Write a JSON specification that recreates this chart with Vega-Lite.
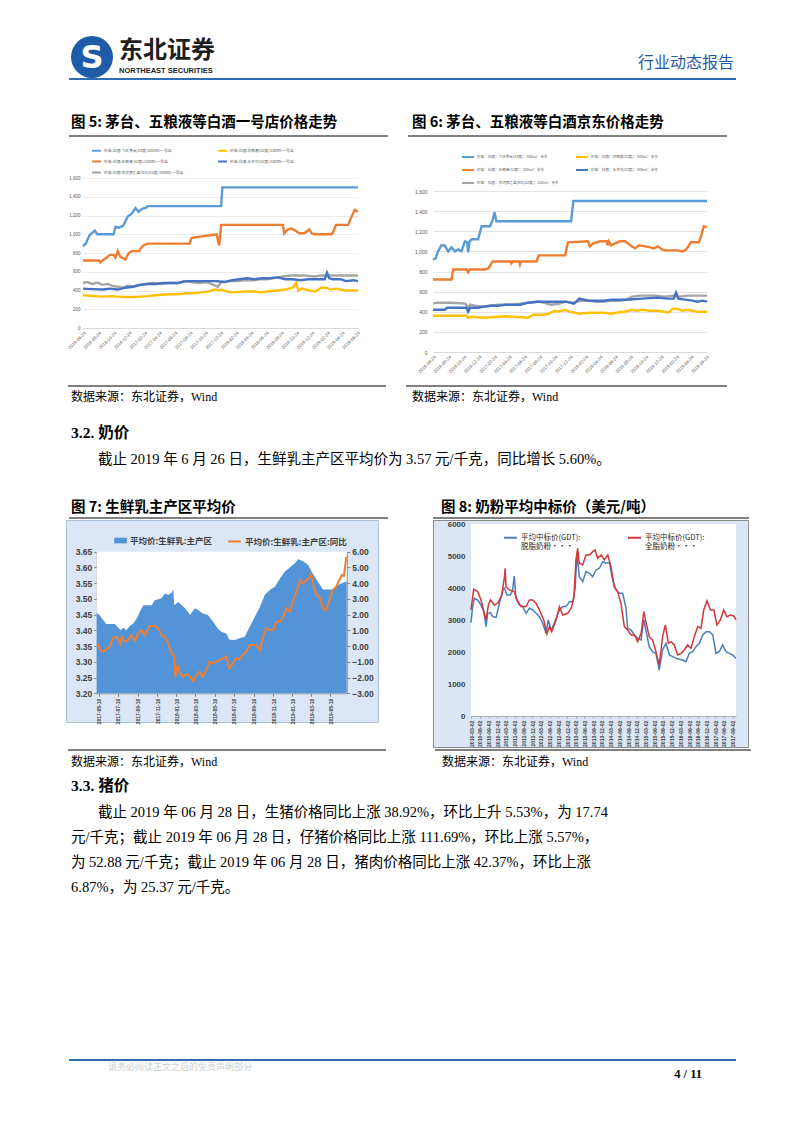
{
"$schema": "https://vega.github.io/schema/vega-lite/v6.json",
"background": "white",
"padding": {"left": 65, "top": 0, "right": 55, "bottom": 53},
"bounds": "flush",
"spacing": 0,
"columns": 2,
"align": "each",
"resolve": {"scale": {"color": "independent", "fill": "independent", "stroke": "independent"}, "legend": {"color": "independent", "fill": "independent", "stroke": "independent"}},
"config": {"view": {"stroke": null}, "font": "Noto Sans CJK SC"},
"concat": [
{
"width": 367, "height": 82,
"data": {"values": [{"name": "东北证券", "en": "NORTHEAST SECURITIES", "logo": "S"}]},
"layer": [
 {"mark": {"type": "point", "shape": "circle", "filled": true, "fill": "#1f5ba6", "opacity": 1, "size": 1764, "xOffset": 26, "yOffset": 16}, "encoding": {"x": {"datum": 0, "type": "quantitative", "scale": {"domain": [0, 1]}, "axis": null}}},
 {"mark": {"type": "text", "font": "DejaVu Sans", "fontWeight": "bold", "fontSize": 32, "fill": "white", "align": "center", "baseline": "middle", "dx": 26, "dy": 17}, "encoding": {"x": {"datum": 0, "type": "quantitative", "axis": null}, "text": {"field": "logo"}}},
 {"mark": {"type": "text", "fontWeight": "bold", "fontSize": 24, "fill": "#1e1e1e", "align": "left", "baseline": "middle", "dx": 53, "dy": 10}, "encoding": {"x": {"datum": 0, "type": "quantitative", "axis": null}, "text": {"field": "name"}}},
 {"mark": {"type": "text", "font": "Liberation Sans", "fontWeight": "bold", "fontSize": 7.5, "fill": "#1e1e1e", "align": "left", "baseline": "middle", "dx": 53, "dy": 30}, "encoding": {"x": {"datum": 0, "type": "quantitative", "axis": null}, "text": {"field": "en"}}},
 {"mark": {"type": "rule", "stroke": "#2e6db4", "strokeWidth": 2, "xOffset": 3, "yOffset": 38}, "encoding": {"x": {"datum": 0, "type": "quantitative", "axis": null}, "x2": {"datum": 1}, "y": {"datum": 0.5, "type": "quantitative", "scale": {"domain": [0, 1]}, "axis": null}}}
]
},
{
"width": 303, "height": 82,
"data": {"values": [{"tag": "行业动态报告"}]},
"layer": [
 {"mark": {"type": "text", "fontSize": 16, "fill": "#1f5ba6", "align": "right", "baseline": "middle", "dx": -2, "dy": 22}, "encoding": {"x": {"datum": 1, "type": "quantitative", "scale": {"domain": [0, 1]}, "axis": null}, "text": {"field": "tag"}}},
 {"mark": {"type": "rule", "stroke": "#2e6db4", "strokeWidth": 2, "yOffset": 38}, "encoding": {"x": {"datum": 0, "type": "quantitative", "axis": null}, "x2": {"datum": 1}, "y": {"datum": 0.5, "type": "quantitative", "scale": {"domain": [0, 1]}, "axis": null}}}
]
},
{"width": 367, "height": 96, "data": {"values": [{"t": "图 5: 茅台、五粮液等白酒一号店价格走势"}]}, "layer": [
  {"mark": {"type": "text", "fontWeight": "bold", "fontSize": 14.5, "align": "left", "baseline": "middle", "dx": 5, "dy": -7, "fill": "#000"}, "encoding": {"x": {"datum": 0, "type": "quantitative", "scale": {"domain": [0, 1]}, "axis": null}, "text": {"field": "t"}}},
  {"mark": {"type": "rule", "stroke": "#000", "strokeWidth": 1, "xOffset": 3, "x2Offset": -45, "yOffset": 6}, "encoding": {"x": {"datum": 0, "type": "quantitative", "axis": null}, "x2": {"datum": 1}, "y": {"datum": 0.5, "type": "quantitative", "scale": {"domain": [0, 1]}, "axis": null}}}
]},
{"width": 303, "height": 96, "data": {"values": [{"t": "图 6: 茅台、五粮液等白酒京东价格走势"}]}, "layer": [
  {"mark": {"type": "text", "fontWeight": "bold", "fontSize": 14.5, "align": "left", "baseline": "middle", "dx": -21, "dy": -7, "fill": "#000"}, "encoding": {"x": {"datum": 0, "type": "quantitative", "scale": {"domain": [0, 1]}, "axis": null}, "text": {"field": "t"}}},
  {"mark": {"type": "rule", "stroke": "#000", "strokeWidth": 1, "xOffset": -25, "x2Offset": -9, "yOffset": 6}, "encoding": {"x": {"datum": 0, "type": "quantitative", "axis": null}, "x2": {"datum": 1}, "y": {"datum": 0.5, "type": "quantitative", "scale": {"domain": [0, 1]}, "axis": null}}}
]},
{
  "width": 292, "height": 150,
  "data": {"values": [
   {"d":"2016-06-24","s":"飞天茅台(53度)","v":870},{"d":"2016-07-05","s":"飞天茅台(53度)","v":900},{"d":"2016-07-20","s":"飞天茅台(53度)","v":990},{"d":"2016-08-10","s":"飞天茅台(53度)","v":1040},{"d":"2016-08-20","s":"飞天茅台(53度)","v":1000},{"d":"2016-10-24","s":"飞天茅台(53度)","v":1000},{"d":"2016-11-01","s":"飞天茅台(53度)","v":1080},{"d":"2016-11-15","s":"飞天茅台(53度)","v":1070},{"d":"2016-12-01","s":"飞天茅台(53度)","v":1090},{"d":"2016-12-20","s":"飞天茅台(53度)","v":1190},{"d":"2017-01-05","s":"飞天茅台(53度)","v":1220},{"d":"2017-01-20","s":"飞天茅台(53度)","v":1280},{"d":"2017-02-01","s":"飞天茅台(53度)","v":1240},{"d":"2017-02-15","s":"飞天茅台(53度)","v":1270},{"d":"2017-03-01","s":"飞天茅台(53度)","v":1280},{"d":"2017-03-10","s":"飞天茅台(53度)","v":1300},{"d":"2017-12-28","s":"飞天茅台(53度)","v":1300},{"d":"2018-01-02","s":"飞天茅台(53度)","v":1500},{"d":"2019-06-28","s":"飞天茅台(53度)","v":1500},
   {"d":"2016-06-24","s":"五粮液(52度)","v":720},{"d":"2016-08-28","s":"五粮液(52度)","v":720},{"d":"2016-09-01","s":"五粮液(52度)","v":700},{"d":"2016-09-10","s":"五粮液(52度)","v":720},{"d":"2016-10-01","s":"五粮液(52度)","v":760},{"d":"2016-10-10","s":"五粮液(52度)","v":780},{"d":"2016-10-24","s":"五粮液(52度)","v":780},{"d":"2016-11-01","s":"五粮液(52度)","v":750},{"d":"2016-11-10","s":"五粮液(52度)","v":820},{"d":"2016-11-20","s":"五粮液(52度)","v":760},{"d":"2016-12-10","s":"五粮液(52度)","v":730},{"d":"2016-12-24","s":"五粮液(52度)","v":800},{"d":"2017-01-05","s":"五粮液(52度)","v":820},{"d":"2017-02-05","s":"五粮液(52度)","v":820},{"d":"2017-02-10","s":"五粮液(52度)","v":850},{"d":"2017-02-20","s":"五粮液(52度)","v":880},{"d":"2017-03-10","s":"五粮液(52度)","v":900},{"d":"2017-08-24","s":"五粮液(52度)","v":900},{"d":"2017-09-01","s":"五粮液(52度)","v":960},{"d":"2017-09-20","s":"五粮液(52度)","v":970},{"d":"2017-10-20","s":"五粮液(52度)","v":980},{"d":"2017-11-15","s":"五粮液(52度)","v":990},{"d":"2017-12-10","s":"五粮液(52度)","v":1000},{"d":"2017-12-20","s":"五粮液(52度)","v":880},{"d":"2017-12-28","s":"五粮液(52度)","v":1100},{"d":"2018-09-01","s":"五粮液(52度)","v":1100},{"d":"2018-09-06","s":"五粮液(52度)","v":1010},{"d":"2018-09-20","s":"五粮液(52度)","v":1050},{"d":"2018-10-05","s":"五粮液(52度)","v":1060},{"d":"2018-10-20","s":"五粮液(52度)","v":1040},{"d":"2018-11-05","s":"五粮液(52度)","v":1010},{"d":"2018-11-25","s":"五粮液(52度)","v":1010},{"d":"2018-12-05","s":"五粮液(52度)","v":1030},{"d":"2018-12-15","s":"五粮液(52度)","v":1050},{"d":"2018-12-25","s":"五粮液(52度)","v":1010},{"d":"2019-01-05","s":"五粮液(52度)","v":1000},{"d":"2019-03-15","s":"五粮液(52度)","v":1000},{"d":"2019-03-22","s":"五粮液(52度)","v":1030},{"d":"2019-04-01","s":"五粮液(52度)","v":1100},{"d":"2019-05-20","s":"五粮液(52度)","v":1100},{"d":"2019-06-01","s":"五粮液(52度)","v":1180},{"d":"2019-06-15","s":"五粮液(52度)","v":1260},{"d":"2019-06-28","s":"五粮液(52度)","v":1240},
   {"d":"2016-06-24","s":"洋河梦之蓝(M3)(52度)","v":480},{"d":"2016-07-10","s":"洋河梦之蓝(M3)(52度)","v":490},{"d":"2016-08-01","s":"洋河梦之蓝(M3)(52度)","v":470},{"d":"2016-08-20","s":"洋河梦之蓝(M3)(52度)","v":485},{"d":"2016-09-10","s":"洋河梦之蓝(M3)(52度)","v":460},{"d":"2016-10-01","s":"洋河梦之蓝(M3)(52度)","v":470},{"d":"2016-10-20","s":"洋河梦之蓝(M3)(52度)","v":450},{"d":"2016-11-10","s":"洋河梦之蓝(M3)(52度)","v":440},{"d":"2016-12-01","s":"洋河梦之蓝(M3)(52度)","v":430},{"d":"2016-12-20","s":"洋河梦之蓝(M3)(52度)","v":450},{"d":"2017-01-10","s":"洋河梦之蓝(M3)(52度)","v":440},{"d":"2017-02-01","s":"洋河梦之蓝(M3)(52度)","v":460},{"d":"2017-03-01","s":"洋河梦之蓝(M3)(52度)","v":470},{"d":"2017-04-01","s":"洋河梦之蓝(M3)(52度)","v":480},{"d":"2017-05-01","s":"洋河梦之蓝(M3)(52度)","v":470},{"d":"2017-06-01","s":"洋河梦之蓝(M3)(52度)","v":480},{"d":"2017-07-10","s":"洋河梦之蓝(M3)(52度)","v":480},{"d":"2017-08-01","s":"洋河梦之蓝(M3)(52度)","v":500},{"d":"2017-09-01","s":"洋河梦之蓝(M3)(52度)","v":490},{"d":"2017-10-01","s":"洋河梦之蓝(M3)(52度)","v":480},{"d":"2017-11-01","s":"洋河梦之蓝(M3)(52度)","v":490},{"d":"2017-12-15","s":"洋河梦之蓝(M3)(52度)","v":440},{"d":"2017-12-28","s":"洋河梦之蓝(M3)(52度)","v":490},{"d":"2018-02-01","s":"洋河梦之蓝(M3)(52度)","v":500},{"d":"2018-03-01","s":"洋河梦之蓝(M3)(52度)","v":500},{"d":"2018-04-01","s":"洋河梦之蓝(M3)(52度)","v":510},{"d":"2018-05-01","s":"洋河梦之蓝(M3)(52度)","v":510},{"d":"2018-06-01","s":"洋河梦之蓝(M3)(52度)","v":520},{"d":"2018-07-01","s":"洋河梦之蓝(M3)(52度)","v":520},{"d":"2018-08-10","s":"洋河梦之蓝(M3)(52度)","v":540},{"d":"2018-09-01","s":"洋河梦之蓝(M3)(52度)","v":550},{"d":"2018-10-01","s":"洋河梦之蓝(M3)(52度)","v":560},{"d":"2018-11-01","s":"洋河梦之蓝(M3)(52度)","v":560},{"d":"2018-12-01","s":"洋河梦之蓝(M3)(52度)","v":560},{"d":"2019-01-01","s":"洋河梦之蓝(M3)(52度)","v":550},{"d":"2019-02-01","s":"洋河梦之蓝(M3)(52度)","v":560},{"d":"2019-04-01","s":"洋河梦之蓝(M3)(52度)","v":560},{"d":"2019-06-28","s":"洋河梦之蓝(M3)(52度)","v":560},
   {"d":"2016-06-24","s":"剑南春(52度)","v":350},{"d":"2016-07-15","s":"剑南春(52度)","v":345},{"d":"2016-08-10","s":"剑南春(52度)","v":340},{"d":"2016-09-10","s":"剑南春(52度)","v":335},{"d":"2016-10-10","s":"剑南春(52度)","v":340},{"d":"2016-11-10","s":"剑南春(52度)","v":335},{"d":"2016-12-10","s":"剑南春(52度)","v":330},{"d":"2017-01-10","s":"剑南春(52度)","v":330},{"d":"2017-02-10","s":"剑南春(52度)","v":335},{"d":"2017-03-10","s":"剑南春(52度)","v":340},{"d":"2017-04-10","s":"剑南春(52度)","v":350},{"d":"2017-05-10","s":"剑南春(52度)","v":355},{"d":"2017-06-10","s":"剑南春(52度)","v":360},{"d":"2017-07-10","s":"剑南春(52度)","v":360},{"d":"2017-08-10","s":"剑南春(52度)","v":370},{"d":"2017-09-10","s":"剑南春(52度)","v":370},{"d":"2017-10-10","s":"剑南春(52度)","v":380},{"d":"2017-11-10","s":"剑南春(52度)","v":390},{"d":"2017-12-01","s":"剑南春(52度)","v":410},{"d":"2017-12-20","s":"剑南春(52度)","v":400},{"d":"2017-12-28","s":"剑南春(52度)","v":410},{"d":"2018-01-20","s":"剑南春(52度)","v":390},{"d":"2018-02-10","s":"剑南春(52度)","v":380},{"d":"2018-03-10","s":"剑南春(52度)","v":385},{"d":"2018-04-10","s":"剑南春(52度)","v":390},{"d":"2018-05-10","s":"剑南春(52度)","v":390},{"d":"2018-06-10","s":"剑南春(52度)","v":380},{"d":"2018-07-10","s":"剑南春(52度)","v":395},{"d":"2018-08-10","s":"剑南春(52度)","v":400},{"d":"2018-09-10","s":"剑南春(52度)","v":410},{"d":"2018-10-10","s":"剑南春(52度)","v":430},{"d":"2018-10-24","s":"剑南春(52度)","v":480},{"d":"2018-11-01","s":"剑南春(52度)","v":400},{"d":"2018-11-15","s":"剑南春(52度)","v":420},{"d":"2018-12-01","s":"剑南春(52度)","v":410},{"d":"2018-12-20","s":"剑南春(52度)","v":400},{"d":"2019-01-10","s":"剑南春(52度)","v":390},{"d":"2019-02-01","s":"剑南春(52度)","v":430},{"d":"2019-02-20","s":"剑南春(52度)","v":430},{"d":"2019-03-10","s":"剑南春(52度)","v":410},{"d":"2019-04-01","s":"剑南春(52度)","v":420},{"d":"2019-04-20","s":"剑南春(52度)","v":410},{"d":"2019-05-10","s":"剑南春(52度)","v":400},{"d":"2019-06-28","s":"剑南春(52度)","v":400},
   {"d":"2016-06-24","s":"水井坊(52度)","v":420},{"d":"2016-08-01","s":"水井坊(52度)","v":415},{"d":"2016-09-10","s":"水井坊(52度)","v":410},{"d":"2016-10-10","s":"水井坊(52度)","v":420},{"d":"2016-11-10","s":"水井坊(52度)","v":410},{"d":"2016-12-10","s":"水井坊(52度)","v":430},{"d":"2017-01-10","s":"水井坊(52度)","v":440},{"d":"2017-02-10","s":"水井坊(52度)","v":460},{"d":"2017-03-10","s":"水井坊(52度)","v":470},{"d":"2017-04-10","s":"水井坊(52度)","v":470},{"d":"2017-05-10","s":"水井坊(52度)","v":480},{"d":"2017-07-10","s":"水井坊(52度)","v":480},{"d":"2017-08-10","s":"水井坊(52度)","v":500},{"d":"2017-10-10","s":"水井坊(52度)","v":500},{"d":"2017-12-10","s":"水井坊(52度)","v":500},{"d":"2018-01-10","s":"水井坊(52度)","v":490},{"d":"2018-02-10","s":"水井坊(52度)","v":510},{"d":"2018-03-10","s":"水井坊(52度)","v":520},{"d":"2018-04-10","s":"水井坊(52度)","v":530},{"d":"2018-05-10","s":"水井坊(52度)","v":520},{"d":"2018-06-10","s":"水井坊(52度)","v":530},{"d":"2018-07-10","s":"水井坊(52度)","v":530},{"d":"2018-08-10","s":"水井坊(52度)","v":540},{"d":"2018-09-10","s":"水井坊(52度)","v":520},{"d":"2018-10-10","s":"水井坊(52度)","v":520},{"d":"2018-11-10","s":"水井坊(52度)","v":510},{"d":"2018-12-10","s":"水井坊(52度)","v":520},{"d":"2019-01-10","s":"水井坊(52度)","v":520},{"d":"2019-02-15","s":"水井坊(52度)","v":520},{"d":"2019-02-24","s":"水井坊(52度)","v":590},{"d":"2019-03-05","s":"水井坊(52度)","v":530},{"d":"2019-03-20","s":"水井坊(52度)","v":520},{"d":"2019-04-20","s":"水井坊(52度)","v":520},{"d":"2019-05-10","s":"水井坊(52度)","v":500},{"d":"2019-06-10","s":"水井坊(52度)","v":510},{"d":"2019-06-28","s":"水井坊(52度)","v":500}
  ]},
  "mark": {"type": "line", "strokeWidth": 2.4},
  "encoding": {
   "x": {"field": "d", "type": "temporal", "scale": {"domain": [{"year":2016,"month":6,"date":24},{"year":2019,"month":6,"date":28}], "range": [17, 292], "nice": false},
     "axis": {"title": null, "values": [{"year":2016,"month":6,"date":24},{"year":2016,"month":8,"date":24},{"year":2016,"month":10,"date":24},{"year":2016,"month":12,"date":24},{"year":2017,"month":2,"date":24},{"year":2017,"month":4,"date":24},{"year":2017,"month":6,"date":24},{"year":2017,"month":8,"date":24},{"year":2017,"month":10,"date":24},{"year":2017,"month":12,"date":24},{"year":2018,"month":2,"date":24},{"year":2018,"month":4,"date":24},{"year":2018,"month":6,"date":24},{"year":2018,"month":8,"date":24},{"year":2018,"month":10,"date":24},{"year":2018,"month":12,"date":24},{"year":2019,"month":2,"date":24},{"year":2019,"month":4,"date":24},{"year":2019,"month":6,"date":24}],
       "format": "%Y-%m-%d", "labelAngle": -45, "labelFontSize": 4.5, "labelFont": "Liberation Sans", "labelColor": "#595959", "grid": false, "ticks": false, "domainColor": "#d9d9d9", "labelPadding": 2, "labelOverlap": false}},
   "y": {"field": "v", "type": "quantitative", "scale": {"domain": [0, 1600], "nice": false},
     "axis": {"title": null, "orient": "left", "offset": -17, "values": [0,200,400,600,800,1000,1200,1400,1600], "labelExpr": "format(datum.value, ',')", "labelFontSize": 4.5, "labelFont": "Liberation Sans", "labelColor": "#595959", "domain": false, "ticks": false, "gridColor": "#ececec", "labelPadding": 3}},
   "color": {"field": "s", "type": "nominal", "scale": {"domain": ["飞天茅台(53度)","五粮液(52度)","洋河梦之蓝(M3)(52度)","剑南春(52度)","水井坊(52度)"], "range": ["#5b9bd5","#ed7d31","#a5a5a5","#ffc000","#4472c4"]},
     "legend": {"orient": "none", "legendX": 25, "legendY": -33, "columns": 2, "title": null, "symbolType": "stroke", "symbolSize": 81, "symbolStrokeWidth": 2, "labelFontSize": 3.8, "labelColor": "#595959", "labelExpr": "'价格:白酒:' + datum.label + ':500ml:一号店'", "columnPadding": 30, "rowPadding": 1, "labelOffset": 2, "labelLimit": 0}}
  }
},
{
  "width": 274, "height": 174,
  "data": {"values": [
   {"d":"2016-06-24","s":"飞天茅台(53度)","v":920},{"d":"2016-07-05","s":"飞天茅台(53度)","v":930},{"d":"2016-07-14","s":"飞天茅台(53度)","v":1000},{"d":"2016-07-27","s":"飞天茅台(53度)","v":1060},{"d":"2016-08-10","s":"飞天茅台(53度)","v":1060},{"d":"2016-08-24","s":"飞天茅台(53度)","v":1000},{"d":"2016-09-06","s":"飞天茅台(53度)","v":1040},{"d":"2016-09-20","s":"飞天茅台(53度)","v":1000},{"d":"2016-10-03","s":"飞天茅台(53度)","v":1020},{"d":"2016-10-16","s":"飞天茅台(53度)","v":1000},{"d":"2016-10-30","s":"飞天茅台(53度)","v":1100},{"d":"2016-11-08","s":"飞天茅台(53度)","v":1090},{"d":"2016-11-12","s":"飞天茅台(53度)","v":990},{"d":"2016-11-18","s":"飞天茅台(53度)","v":1100},{"d":"2016-11-26","s":"飞天茅台(53度)","v":1120},{"d":"2016-12-22","s":"飞天茅台(53度)","v":1120},{"d":"2017-01-05","s":"飞天茅台(53度)","v":1250},{"d":"2017-02-08","s":"飞天茅台(53度)","v":1250},{"d":"2017-02-18","s":"飞天茅台(53度)","v":1310},{"d":"2017-02-26","s":"飞天茅台(53度)","v":1390},{"d":"2017-03-05","s":"飞天茅台(53度)","v":1300},{"d":"2017-12-30","s":"飞天茅台(53度)","v":1300},{"d":"2018-01-08","s":"飞天茅台(53度)","v":1500},{"d":"2019-06-28","s":"飞天茅台(53度)","v":1500},
   {"d":"2016-06-24","s":"五粮液(52度)","v":720},{"d":"2016-09-06","s":"五粮液(52度)","v":720},{"d":"2016-09-13","s":"五粮液(52度)","v":820},{"d":"2016-11-06","s":"五粮液(52度)","v":820},{"d":"2016-11-12","s":"五粮液(52度)","v":790},{"d":"2016-11-19","s":"五粮液(52度)","v":820},{"d":"2017-01-19","s":"五粮液(52度)","v":820},{"d":"2017-02-01","s":"五粮液(52度)","v":830},{"d":"2017-02-18","s":"五粮液(52度)","v":900},{"d":"2017-05-01","s":"五粮液(52度)","v":900},{"d":"2017-05-04","s":"五粮液(52度)","v":880},{"d":"2017-05-10","s":"五粮液(52度)","v":900},{"d":"2017-06-05","s":"五粮液(52度)","v":900},{"d":"2017-06-08","s":"五粮液(52度)","v":870},{"d":"2017-06-12","s":"五粮液(52度)","v":900},{"d":"2017-08-13","s":"五粮液(52度)","v":900},{"d":"2017-08-22","s":"五粮液(52度)","v":960},{"d":"2017-12-06","s":"五粮液(52度)","v":960},{"d":"2017-12-17","s":"五粮液(52度)","v":1090},{"d":"2018-03-08","s":"五粮液(52度)","v":1100},{"d":"2018-03-15","s":"五粮液(52度)","v":1050},{"d":"2018-03-29","s":"五粮液(52度)","v":1080},{"d":"2018-04-25","s":"五粮液(52度)","v":1100},{"d":"2018-05-22","s":"五粮液(52度)","v":1100},{"d":"2018-05-25","s":"五粮液(52度)","v":1060},{"d":"2018-05-30","s":"五粮液(52度)","v":1100},{"d":"2018-06-08","s":"五粮液(52度)","v":1060},{"d":"2018-06-24","s":"五粮液(52度)","v":1080},{"d":"2018-07-14","s":"五粮液(52度)","v":1100},{"d":"2018-08-04","s":"五粮液(52度)","v":1100},{"d":"2018-08-30","s":"五粮液(52度)","v":1050},{"d":"2018-09-13","s":"五粮液(52度)","v":1030},{"d":"2018-09-29","s":"五粮液(52度)","v":1060},{"d":"2018-10-23","s":"五粮液(52度)","v":1050},{"d":"2018-11-13","s":"五粮液(52度)","v":1040},{"d":"2018-11-26","s":"五粮液(52度)","v":1030},{"d":"2018-12-13","s":"五粮液(52度)","v":1050},{"d":"2018-12-29","s":"五粮液(52度)","v":1020},{"d":"2019-01-12","s":"五粮液(52度)","v":1010},{"d":"2019-03-05","s":"五粮液(52度)","v":1010},{"d":"2019-03-19","s":"五粮液(52度)","v":1000},{"d":"2019-04-01","s":"五粮液(52度)","v":1010},{"d":"2019-04-12","s":"五粮液(52度)","v":1040},{"d":"2019-04-25","s":"五粮液(52度)","v":1090},{"d":"2019-05-27","s":"五粮液(52度)","v":1090},{"d":"2019-06-04","s":"五粮液(52度)","v":1150},{"d":"2019-06-15","s":"五粮液(52度)","v":1250},{"d":"2019-06-27","s":"五粮液(52度)","v":1240},
   {"d":"2016-06-24","s":"洋河梦之蓝(M3)(52度)","v":480},{"d":"2016-07-10","s":"洋河梦之蓝(M3)(52度)","v":490},{"d":"2016-09-01","s":"洋河梦之蓝(M3)(52度)","v":490},{"d":"2016-10-15","s":"洋河梦之蓝(M3)(52度)","v":485},{"d":"2016-11-01","s":"洋河梦之蓝(M3)(52度)","v":480},{"d":"2016-11-12","s":"洋河梦之蓝(M3)(52度)","v":440},{"d":"2016-11-20","s":"洋河梦之蓝(M3)(52度)","v":470},{"d":"2016-12-10","s":"洋河梦之蓝(M3)(52度)","v":460},{"d":"2017-01-10","s":"洋河梦之蓝(M3)(52度)","v":450},{"d":"2017-02-10","s":"洋河梦之蓝(M3)(52度)","v":460},{"d":"2017-03-10","s":"洋河梦之蓝(M3)(52度)","v":470},{"d":"2017-05-10","s":"洋河梦之蓝(M3)(52度)","v":470},{"d":"2017-06-10","s":"洋河梦之蓝(M3)(52度)","v":480},{"d":"2017-07-10","s":"洋河梦之蓝(M3)(52度)","v":490},{"d":"2017-08-20","s":"洋河梦之蓝(M3)(52度)","v":500},{"d":"2017-09-10","s":"洋河梦之蓝(M3)(52度)","v":490},{"d":"2017-10-10","s":"洋河梦之蓝(M3)(52度)","v":470},{"d":"2017-11-10","s":"洋河梦之蓝(M3)(52度)","v":480},{"d":"2017-12-10","s":"洋河梦之蓝(M3)(52度)","v":500},{"d":"2018-01-10","s":"洋河梦之蓝(M3)(52度)","v":490},{"d":"2018-02-10","s":"洋河梦之蓝(M3)(52度)","v":510},{"d":"2018-03-10","s":"洋河梦之蓝(M3)(52度)","v":510},{"d":"2018-04-10","s":"洋河梦之蓝(M3)(52度)","v":500},{"d":"2018-05-10","s":"洋河梦之蓝(M3)(52度)","v":500},{"d":"2018-06-10","s":"洋河梦之蓝(M3)(52度)","v":510},{"d":"2018-07-10","s":"洋河梦之蓝(M3)(52度)","v":510},{"d":"2018-08-10","s":"洋河梦之蓝(M3)(52度)","v":520},{"d":"2018-09-01","s":"洋河梦之蓝(M3)(52度)","v":550},{"d":"2018-10-01","s":"洋河梦之蓝(M3)(52度)","v":560},{"d":"2018-12-01","s":"洋河梦之蓝(M3)(52度)","v":560},{"d":"2019-01-10","s":"洋河梦之蓝(M3)(52度)","v":550},{"d":"2019-02-10","s":"洋河梦之蓝(M3)(52度)","v":560},{"d":"2019-03-10","s":"洋河梦之蓝(M3)(52度)","v":550},{"d":"2019-04-10","s":"洋河梦之蓝(M3)(52度)","v":560},{"d":"2019-06-28","s":"洋河梦之蓝(M3)(52度)","v":560},
   {"d":"2016-06-24","s":"剑南春(52度)","v":360},{"d":"2016-11-05","s":"剑南春(52度)","v":360},{"d":"2016-11-12","s":"剑南春(52度)","v":340},{"d":"2016-11-25","s":"剑南春(52度)","v":350},{"d":"2016-12-20","s":"剑南春(52度)","v":345},{"d":"2017-01-20","s":"剑南春(52度)","v":340},{"d":"2017-03-10","s":"剑南春(52度)","v":350},{"d":"2017-04-10","s":"剑南春(52度)","v":355},{"d":"2017-05-10","s":"剑南春(52度)","v":350},{"d":"2017-07-10","s":"剑南春(52度)","v":340},{"d":"2017-08-01","s":"剑南春(52度)","v":370},{"d":"2017-09-10","s":"剑南春(52度)","v":370},{"d":"2017-10-01","s":"剑南春(52度)","v":380},{"d":"2017-10-24","s":"剑南春(52度)","v":410},{"d":"2017-11-10","s":"剑南春(52度)","v":400},{"d":"2017-12-05","s":"剑南春(52度)","v":420},{"d":"2017-12-25","s":"剑南春(52度)","v":400},{"d":"2018-02-01","s":"剑南春(52度)","v":380},{"d":"2018-03-10","s":"剑南春(52度)","v":390},{"d":"2018-05-10","s":"剑南春(52度)","v":390},{"d":"2018-06-10","s":"剑南春(52度)","v":380},{"d":"2018-07-10","s":"剑南春(52度)","v":395},{"d":"2018-08-01","s":"剑南春(52度)","v":400},{"d":"2018-09-01","s":"剑南春(52度)","v":420},{"d":"2018-09-20","s":"剑南春(52度)","v":410},{"d":"2018-10-10","s":"剑南春(52度)","v":420},{"d":"2018-11-10","s":"剑南春(52度)","v":410},{"d":"2018-12-10","s":"剑南春(52度)","v":410},{"d":"2019-01-10","s":"剑南春(52度)","v":400},{"d":"2019-01-25","s":"剑南春(52度)","v":390},{"d":"2019-02-10","s":"剑南春(52度)","v":430},{"d":"2019-03-01","s":"剑南春(52度)","v":430},{"d":"2019-03-20","s":"剑南春(52度)","v":410},{"d":"2019-04-10","s":"剑南春(52度)","v":420},{"d":"2019-05-01","s":"剑南春(52度)","v":410},{"d":"2019-05-20","s":"剑南春(52度)","v":400},{"d":"2019-06-28","s":"剑南春(52度)","v":400},
   {"d":"2016-06-24","s":"水井坊(52度)","v":420},{"d":"2016-08-10","s":"水井坊(52度)","v":420},{"d":"2016-08-20","s":"水井坊(52度)","v":440},{"d":"2016-11-05","s":"水井坊(52度)","v":440},{"d":"2016-11-12","s":"水井坊(52度)","v":400},{"d":"2016-11-20","s":"水井坊(52度)","v":440},{"d":"2016-12-20","s":"水井坊(52度)","v":440},{"d":"2017-01-10","s":"水井坊(52度)","v":450},{"d":"2017-02-10","s":"水井坊(52度)","v":460},{"d":"2017-03-10","s":"水井坊(52度)","v":460},{"d":"2017-04-10","s":"水井坊(52度)","v":470},{"d":"2017-06-10","s":"水井坊(52度)","v":470},{"d":"2017-07-10","s":"水井坊(52度)","v":490},{"d":"2017-08-15","s":"水井坊(52度)","v":500},{"d":"2017-12-10","s":"水井坊(52度)","v":500},{"d":"2018-01-10","s":"水井坊(52度)","v":480},{"d":"2018-02-01","s":"水井坊(52度)","v":530},{"d":"2018-03-10","s":"水井坊(52度)","v":510},{"d":"2018-05-10","s":"水井坊(52度)","v":510},{"d":"2018-06-10","s":"水井坊(52度)","v":520},{"d":"2018-08-10","s":"水井坊(52度)","v":520},{"d":"2018-10-10","s":"水井坊(52度)","v":530},{"d":"2018-12-10","s":"水井坊(52度)","v":540},{"d":"2019-01-20","s":"水井坊(52度)","v":530},{"d":"2019-02-15","s":"水井坊(52度)","v":530},{"d":"2019-02-24","s":"水井坊(52度)","v":590},{"d":"2019-03-05","s":"水井坊(52度)","v":530},{"d":"2019-04-01","s":"水井坊(52度)","v":520},{"d":"2019-05-01","s":"水井坊(52度)","v":510},{"d":"2019-05-20","s":"水井坊(52度)","v":500},{"d":"2019-06-10","s":"水井坊(52度)","v":510},{"d":"2019-06-28","s":"水井坊(52度)","v":500}
  ]},
  "mark": {"type": "line", "strokeWidth": 2.4},
  "encoding": {
   "x": {"field": "d", "type": "temporal", "scale": {"domain": [{"year":2016,"month":6,"date":24},{"year":2019,"month":6,"date":28}], "nice": false},
     "axis": {"title": null, "values": [{"year":2016,"month":6,"date":24},{"year":2016,"month":8,"date":24},{"year":2016,"month":10,"date":24},{"year":2016,"month":12,"date":24},{"year":2017,"month":2,"date":24},{"year":2017,"month":4,"date":24},{"year":2017,"month":6,"date":24},{"year":2017,"month":8,"date":24},{"year":2017,"month":10,"date":24},{"year":2017,"month":12,"date":24},{"year":2018,"month":2,"date":24},{"year":2018,"month":4,"date":24},{"year":2018,"month":6,"date":24},{"year":2018,"month":8,"date":24},{"year":2018,"month":10,"date":24},{"year":2018,"month":12,"date":24},{"year":2019,"month":2,"date":24},{"year":2019,"month":4,"date":24},{"year":2019,"month":6,"date":24}],
       "format": "%Y-%m-%d", "labelAngle": -45, "labelFontSize": 4.5, "labelFont": "Liberation Sans", "labelColor": "#595959", "grid": false, "ticks": false, "domainColor": "#d9d9d9", "labelPadding": 2, "labelOverlap": false}},
   "y": {"field": "v", "type": "quantitative", "scale": {"domain": [0, 1600], "nice": false, "range": [174, 13]},
     "axis": {"title": null, "values": [0,200,400,600,800,1000,1200,1400,1600], "labelExpr": "format(datum.value, ',')", "labelFontSize": 5, "labelFont": "Liberation Sans", "labelColor": "#595959", "domain": false, "ticks": false, "gridColor": "#e3e3e3", "labelPadding": 6}},
   "color": {"field": "s", "type": "nominal", "scale": {"domain": ["飞天茅台(53度)","五粮液(52度)","洋河梦之蓝(M3)(52度)","剑南春(52度)","水井坊(52度)"], "range": ["#5b9bd5","#ed7d31","#a5a5a5","#ffc000","#4472c4"]},
     "legend": {"orient": "none", "legendX": 28, "legendY": -28, "columns": 2, "title": null, "symbolType": "stroke", "symbolSize": 144, "symbolStrokeWidth": 2, "labelFontSize": 3.6, "labelColor": "#595959", "labelExpr": "'价格：白酒：' + datum.label + '：500ml：京东'", "columnPadding": 13, "rowPadding": 2, "labelOffset": 2, "labelLimit": 0}}
  }
},
{"width": 367, "height": 58, "data": {"values": [{"t": "数据来源：东北证券，Wind"}]}, "layer": [
  {"mark": {"type": "text", "font": "Liberation Serif, Noto Sans CJK SC", "fontSize": 12, "align": "left", "baseline": "middle", "dx": 5, "dy": 16, "fill": "#000"}, "encoding": {"x": {"datum": 0, "type": "quantitative", "scale": {"domain": [0, 1]}, "axis": null}, "text": {"field": "t"}}},
  {"mark": {"type": "rule", "stroke": "#000", "strokeWidth": 1, "xOffset": 2, "x2Offset": -47, "yOffset": 5}, "encoding": {"x": {"datum": 0, "type": "quantitative", "axis": null}, "x2": {"datum": 1}, "y": {"datum": 0.5, "type": "quantitative", "scale": {"domain": [0, 1]}, "axis": null}}}
]},
{"width": 303, "height": 58, "data": {"values": [{"t": "数据来源：东北证券，Wind"}]}, "layer": [
  {"mark": {"type": "text", "font": "Liberation Serif, Noto Sans CJK SC", "fontSize": 12, "align": "left", "baseline": "middle", "dx": -21, "dy": 16, "fill": "#000"}, "encoding": {"x": {"datum": 0, "type": "quantitative", "scale": {"domain": [0, 1]}, "axis": null}, "text": {"field": "t"}}},
  {"mark": {"type": "rule", "stroke": "#000", "strokeWidth": 1, "xOffset": -27, "x2Offset": -9, "yOffset": 5}, "encoding": {"x": {"datum": 0, "type": "quantitative", "axis": null}, "x2": {"datum": 1}, "y": {"datum": 0.5, "type": "quantitative", "scale": {"domain": [0, 1]}, "axis": null}}}
]},
{
"width": 367, "height": 65,
"data": {"values": [{"h": "3.2.  奶价", "p": "截止 2019 年 6 月 26 日，生鲜乳主产区平均价为 3.57 元/千克，同比增长 5.60%。"}]},
"layer": [
 {"mark": {"type": "text", "font": "Liberation Serif, Noto Sans CJK SC", "fontWeight": "bold", "fontSize": 15.5, "align": "left", "baseline": "middle", "dx": 5, "dy": -9.5, "fill": "#000"}, "encoding": {"x": {"datum": 0, "type": "quantitative", "scale": {"domain": [0, 1]}, "axis": null}, "text": {"field": "h"}}},
 {"mark": {"type": "text", "font": "Liberation Serif, Noto Sans CJK SC", "fontSize": 14.5, "align": "left", "baseline": "middle", "dx": 32, "dy": 17.5, "fill": "#000"}, "encoding": {"x": {"datum": 0, "type": "quantitative", "axis": null}, "text": {"field": "p"}}}
]
},
{"width": 1, "height": 1, "data": {"values": []}, "mark": "point"},
{"width": 367, "height": 45, "data": {"values": [{"t": "图 7: 生鲜乳主产区平均价"}]}, "layer": [
  {"mark": {"type": "text", "fontWeight": "bold", "fontSize": 14.5, "align": "left", "baseline": "middle", "dx": 5, "dy": 10.5, "fill": "#000"}, "encoding": {"x": {"datum": 0, "type": "quantitative", "scale": {"domain": [0, 1]}, "axis": null}, "text": {"field": "t"}}},
  {"mark": {"type": "rule", "stroke": "#000", "strokeWidth": 1, "xOffset": 3, "x2Offset": -45, "yOffset": 20.5}, "encoding": {"x": {"datum": 0, "type": "quantitative", "axis": null}, "x2": {"datum": 1}, "y": {"datum": 0.5, "type": "quantitative", "scale": {"domain": [0, 1]}, "axis": null}}}
]},
{"width": 315, "height": 45, "data": {"values": [{"t": "图 8: 奶粉平均中标价（美元/吨）"}]}, "layer": [
  {"mark": {"type": "text", "fontWeight": "bold", "fontSize": 14.5, "align": "left", "baseline": "middle", "dx": 8, "dy": 10.5, "fill": "#000"}, "encoding": {"x": {"datum": 0, "type": "quantitative", "scale": {"domain": [0, 1]}, "axis": null}, "text": {"field": "t"}}},
  {"mark": {"type": "rule", "stroke": "#000", "strokeWidth": 1, "xOffset": 0, "x2Offset": 1, "yOffset": 20.5}, "encoding": {"x": {"datum": 0, "type": "quantitative", "axis": null}, "x2": {"datum": 1}, "y": {"datum": 0.5, "type": "quantitative", "scale": {"domain": [0, 1]}, "axis": null}}}
]},
{
  "width": 312, "height": 202,
  "view": {"fill": "#dbe7f6", "stroke": "#a9bfdc", "strokeWidth": 1},
  "layer": [
   {"data": {"values": [{}]}, "mark": {"type": "rect", "fill": "white"},
    "encoding": {
     "x": {"datum": {"year":2017,"month":5,"date":4}, "type": "temporal", "scale": {"domain": [{"year":2017,"month":5,"date":4},{"year":2019,"month":6,"date":30}], "range": [30.7, 280.7], "nice": false},
       "axis": {"title": null, "orient": "bottom", "offset": -28.7, "values": [{"year":2017,"month":5,"date":10},{"year":2017,"month":7,"date":10},{"year":2017,"month":9,"date":10},{"year":2017,"month":11,"date":10},{"year":2018,"month":1,"date":10},{"year":2018,"month":3,"date":10},{"year":2018,"month":5,"date":10},{"year":2018,"month":7,"date":10},{"year":2018,"month":9,"date":10},{"year":2018,"month":11,"date":10},{"year":2019,"month":1,"date":10},{"year":2019,"month":3,"date":10},{"year":2019,"month":5,"date":10}],
         "format": "%Y-%m-%d", "labelAngle": -90, "labelFontSize": 5, "labelFontWeight": "bold", "labelFont": "Liberation Sans", "labelColor": "#404040", "grid": false, "tickSize": 3, "tickColor": "#888", "domainColor": "#888", "labelPadding": 2, "labelOverlap": false}},
     "x2": {"datum": {"year":2019,"month":6,"date":30}},
     "y": {"datum": 3.2, "type": "quantitative", "scale": {"domain": [3.2, 3.65], "range": [173.3, 31.7], "nice": false, "zero": false}, "axis": null},
     "y2": {"datum": 3.65}
    }},
   {"data": {"values": [
     {"d":"2017-05-04","v":3.456},{"d":"2017-05-13","v":3.449},{"d":"2017-05-24","v":3.433},{"d":"2017-06-03","v":3.42},{"d":"2017-06-30","v":3.42},{"d":"2017-07-10","v":3.41},{"d":"2017-07-18","v":3.40},{"d":"2017-07-26","v":3.408},{"d":"2017-08-05","v":3.40},{"d":"2017-08-16","v":3.414},{"d":"2017-08-27","v":3.422},{"d":"2017-09-07","v":3.438},{"d":"2017-09-17","v":3.46},{"d":"2017-09-28","v":3.48},{"d":"2017-10-24","v":3.48},{"d":"2017-11-03","v":3.496},{"d":"2017-11-24","v":3.502},{"d":"2017-12-05","v":3.517},{"d":"2017-12-15","v":3.512},{"d":"2017-12-26","v":3.52},{"d":"2017-12-31","v":3.53},{"d":"2018-01-03","v":3.48},{"d":"2018-01-16","v":3.49},{"d":"2018-02-06","v":3.47},{"d":"2018-02-22","v":3.449},{"d":"2018-03-09","v":3.47},{"d":"2018-03-19","v":3.465},{"d":"2018-04-03","v":3.454},{"d":"2018-04-19","v":3.449},{"d":"2018-05-05","v":3.428},{"d":"2018-05-20","v":3.406},{"d":"2018-05-31","v":3.396},{"d":"2018-06-16","v":3.39},{"d":"2018-06-26","v":3.37},{"d":"2018-07-12","v":3.369},{"d":"2018-07-28","v":3.375},{"d":"2018-08-13","v":3.38},{"d":"2018-08-23","v":3.40},{"d":"2018-09-03","v":3.422},{"d":"2018-09-14","v":3.443},{"d":"2018-09-30","v":3.475},{"d":"2018-10-15","v":3.512},{"d":"2018-10-31","v":3.528},{"d":"2018-11-16","v":3.539},{"d":"2018-12-02","v":3.565},{"d":"2018-12-17","v":3.586},{"d":"2019-01-02","v":3.60},{"d":"2019-01-18","v":3.613},{"d":"2019-01-28","v":3.626},{"d":"2019-02-13","v":3.62},{"d":"2019-03-01","v":3.607},{"d":"2019-03-15","v":3.581},{"d":"2019-03-31","v":3.555},{"d":"2019-04-16","v":3.53},{"d":"2019-05-17","v":3.53},{"d":"2019-06-02","v":3.544},{"d":"2019-06-18","v":3.551},{"d":"2019-06-30","v":3.555}
    ]},
    "mark": {"type": "area", "opacity": 1},
    "encoding": {
     "x": {"field": "d", "type": "temporal",
       "axis": {"title": null, "orient": "bottom", "offset": -28.7, "values": [{"year":2017,"month":5,"date":10},{"year":2017,"month":7,"date":10},{"year":2017,"month":9,"date":10},{"year":2017,"month":11,"date":10},{"year":2018,"month":1,"date":10},{"year":2018,"month":3,"date":10},{"year":2018,"month":5,"date":10},{"year":2018,"month":7,"date":10},{"year":2018,"month":9,"date":10},{"year":2018,"month":11,"date":10},{"year":2019,"month":1,"date":10},{"year":2019,"month":3,"date":10},{"year":2019,"month":5,"date":10}],
         "format": "%Y-%m-%d", "labelAngle": -90, "labelFontSize": 5, "labelFontWeight": "bold", "labelFont": "Liberation Sans", "labelColor": "#404040", "grid": false, "tickSize": 3, "tickColor": "#888", "domainColor": "#888", "labelPadding": 2, "labelOverlap": false}},
     "y": {"field": "v", "type": "quantitative", "scale": {"domain": [3.2, 3.65], "range": [173.3, 31.7], "nice": false, "zero": false},
       "axis": {"title": null, "orient": "left", "offset": -30.7, "values": [3.2,3.25,3.3,3.35,3.4,3.45,3.5,3.55,3.6,3.65], "format": ".2f", "labelFontSize": 8.5, "labelFontWeight": "bold", "labelFont": "Liberation Sans", "labelColor": "#404040", "grid": false, "tickSize": 3, "tickColor": "#888", "domainColor": "#888", "labelPadding": 2}},
     "y2": {"datum": 3.2},
     "fill": {"datum": "平均价:生鲜乳:主产区", "type": "nominal", "scale": {"range": ["#5393d8"]},
       "legend": {"orient": "none", "legendX": 48, "legendY": 14, "title": null, "symbolType": "M-1,-0.45H1V0.45H-1Z", "symbolSize": 160, "symbolStrokeWidth": 0, "labelFontSize": 8.5, "labelFontWeight": "bold", "labelColor": "#404040", "labelOffset": 3, "labelLimit": 0}}
    }},
   {"data": {"values": [
     {"d":"2017-05-08","v":0.13},{"d":"2017-05-16","v":-0.25},{"d":"2017-05-24","v":-0.36},{"d":"2017-06-03","v":-0.21},{"d":"2017-06-14","v":-0.04},{"d":"2017-06-24","v":0.49},{"d":"2017-07-05","v":0.6},{"d":"2017-07-12","v":0.39},{"d":"2017-07-18","v":0.13},{"d":"2017-07-22","v":0.6},{"d":"2017-07-31","v":0.28},{"d":"2017-08-11","v":0.39},{"d":"2017-08-21","v":0.70},{"d":"2017-09-01","v":0.34},{"d":"2017-09-12","v":0.81},{"d":"2017-09-22","v":1.02},{"d":"2017-10-03","v":0.68},{"d":"2017-10-11","v":1.02},{"d":"2017-10-18","v":1.28},{"d":"2017-11-03","v":1.28},{"d":"2017-11-14","v":1.13},{"d":"2017-11-24","v":0.70},{"d":"2017-12-05","v":0.60},{"d":"2017-12-15","v":0.17},{"d":"2017-12-26","v":-0.46},{"d":"2018-01-02","v":-0.57},{"d":"2018-01-07","v":-1.94},{"d":"2018-01-14","v":-1.2},{"d":"2018-01-21","v":-1.73},{"d":"2018-02-01","v":-1.94},{"d":"2018-02-12","v":-1.8},{"d":"2018-02-22","v":-1.94},{"d":"2018-03-04","v":-2.26},{"d":"2018-03-14","v":-1.84},{"d":"2018-03-24","v":-1.63},{"d":"2018-04-03","v":-1.94},{"d":"2018-04-14","v":-1.52},{"d":"2018-04-24","v":-0.99},{"d":"2018-05-05","v":-1.1},{"d":"2018-05-15","v":-0.99},{"d":"2018-05-26","v":-0.89},{"d":"2018-06-05","v":-0.78},{"d":"2018-06-16","v":-0.67},{"d":"2018-06-26","v":-1.42},{"d":"2018-07-07","v":-1.1},{"d":"2018-07-17","v":-0.78},{"d":"2018-07-28","v":-0.84},{"d":"2018-08-07","v":-0.57},{"d":"2018-08-18","v":-0.36},{"d":"2018-08-28","v":0.07},{"d":"2018-09-19","v":0.07},{"d":"2018-09-30","v":-0.25},{"d":"2018-10-10","v":0.6},{"d":"2018-10-20","v":1.13},{"d":"2018-10-31","v":1.02},{"d":"2018-11-11","v":1.02},{"d":"2018-11-21","v":1.55},{"d":"2018-12-02","v":1.55},{"d":"2018-12-12","v":1.87},{"d":"2018-12-22","v":2.40},{"d":"2019-01-02","v":2.19},{"d":"2019-01-13","v":2.93},{"d":"2019-01-23","v":3.46},{"d":"2019-02-03","v":4.2},{"d":"2019-02-13","v":3.99},{"d":"2019-02-24","v":4.2},{"d":"2019-03-06","v":4.37},{"d":"2019-03-10","v":4.62},{"d":"2019-03-18","v":3.78},{"d":"2019-03-26","v":3.25},{"d":"2019-04-05","v":3.14},{"d":"2019-04-16","v":2.40},{"d":"2019-04-26","v":2.29},{"d":"2019-05-07","v":2.93},{"d":"2019-05-17","v":3.56},{"d":"2019-05-28","v":3.78},{"d":"2019-06-07","v":4.2},{"d":"2019-06-15","v":4.52},{"d":"2019-06-21","v":4.45},{"d":"2019-06-25","v":5.05},{"d":"2019-06-29","v":5.68}
    ]},
    "mark": {"type": "line", "strokeWidth": 2},
    "encoding": {
     "x": {"field": "d", "type": "temporal",
       "axis": {"title": null, "orient": "bottom", "offset": -28.7, "values": [{"year":2017,"month":5,"date":10},{"year":2017,"month":7,"date":10},{"year":2017,"month":9,"date":10},{"year":2017,"month":11,"date":10},{"year":2018,"month":1,"date":10},{"year":2018,"month":3,"date":10},{"year":2018,"month":5,"date":10},{"year":2018,"month":7,"date":10},{"year":2018,"month":9,"date":10},{"year":2018,"month":11,"date":10},{"year":2019,"month":1,"date":10},{"year":2019,"month":3,"date":10},{"year":2019,"month":5,"date":10}],
         "format": "%Y-%m-%d", "labelAngle": -90, "labelFontSize": 5, "labelFontWeight": "bold", "labelFont": "Liberation Sans", "labelColor": "#404040", "grid": false, "tickSize": 3, "tickColor": "#888", "domainColor": "#888", "labelPadding": 2, "labelOverlap": false}},
     "y": {"field": "v", "type": "quantitative", "scale": {"domain": [-3, 6], "range": [173.3, 31.7], "nice": false, "zero": false},
       "axis": {"title": null, "orient": "right", "offset": -31.3, "values": [-3,-2,-1,0,1,2,3,4,5,6], "format": ".2f", "labelFontSize": 8.5, "labelFontWeight": "bold", "labelFont": "Liberation Sans", "labelColor": "#404040", "grid": false, "tickSize": 3, "tickColor": "#888", "domainColor": "#888", "labelPadding": 2}},
     "stroke": {"datum": "平均价:生鲜乳:主产区:同比", "type": "nominal", "scale": {"range": ["#ed7d31"]},
       "legend": {"orient": "none", "legendX": 161, "legendY": 14, "title": null, "symbolType": "stroke", "symbolSize": 160, "symbolStrokeWidth": 2, "labelFontSize": 8.5, "labelFontWeight": "bold", "labelColor": "#404040", "labelOffset": 3, "labelLimit": 0}}
    }}
  ],
  "resolve": {"scale": {"y": "independent", "fill": "independent", "stroke": "independent"}, "axis": {"y": "independent"}}
},
{
  "width": 315, "height": 227,
  "view": {"fill": "#dbe6f5", "stroke": "#8a8a8a", "strokeWidth": 1},
  "layer": [
   {"data": {"values": [{}]}, "mark": {"type": "rect", "fill": "white"},
    "encoding": {
     "x": {"datum": {"year":2010,"month":3,"date":2}, "type": "temporal", "scale": {"domain": [{"year":2010,"month":3,"date":2},{"year":2017,"month":10,"date":7}], "range": [38, 303], "nice": false},
       "axis": {"title": null, "orient": "bottom", "offset": -31, "values": [{"year":2010,"month":3,"date":2},{"year":2010,"month":6,"date":2},{"year":2010,"month":9,"date":2},{"year":2010,"month":12,"date":2},{"year":2011,"month":3,"date":2},{"year":2011,"month":6,"date":2},{"year":2011,"month":9,"date":2},{"year":2011,"month":12,"date":2},{"year":2012,"month":3,"date":2},{"year":2012,"month":6,"date":2},{"year":2012,"month":9,"date":2},{"year":2012,"month":12,"date":2},{"year":2013,"month":3,"date":2},{"year":2013,"month":6,"date":2},{"year":2013,"month":9,"date":2},{"year":2013,"month":12,"date":2},{"year":2014,"month":3,"date":2},{"year":2014,"month":6,"date":2},{"year":2014,"month":9,"date":2},{"year":2014,"month":12,"date":2},{"year":2015,"month":3,"date":2},{"year":2015,"month":6,"date":2},{"year":2015,"month":9,"date":2},{"year":2015,"month":12,"date":2},{"year":2016,"month":3,"date":2},{"year":2016,"month":6,"date":2},{"year":2016,"month":9,"date":2},{"year":2016,"month":12,"date":2},{"year":2017,"month":3,"date":2},{"year":2017,"month":6,"date":2},{"year":2017,"month":9,"date":2}],
         "format": "%Y-%m-%d", "labelAngle": -90, "labelFontSize": 5.2, "labelFontWeight": "bold", "labelFont": "Liberation Sans", "labelColor": "#404040", "grid": false, "tickSize": 2, "tickColor": "#aaa", "domainColor": "#aaa", "labelPadding": 2, "labelOverlap": false}},
     "x2": {"datum": {"year":2017,"month":10,"date":7}},
     "y": {"datum": 0, "type": "quantitative", "scale": {"domain": [0, 6000], "range": [196, 4], "nice": false},
       "axis": {"title": null, "orient": "left", "offset": -38, "values": [0,1000,2000,3000,4000,5000,6000], "labelExpr": "format(datum.value, 'd')", "labelFontSize": 8, "labelFontWeight": "bold", "labelFont": "Liberation Sans", "labelColor": "#404040", "grid": false, "tickSize": 0, "domainColor": "#aaa", "labelPadding": 6, "labelOverlap": false}},
     "y2": {"datum": 6000}
    }},
   {"data": {"values": [
     {"d":"2010-03-02","s":"平均中标价(GDT):脱脂奶粉","v":2918},{"d":"2010-03-19","s":"平均中标价(GDT):脱脂奶粉","v":3418},{"d":"2010-04-06","s":"平均中标价(GDT):脱脂奶粉","v":3678},{"d":"2010-05-11","s":"平均中标价(GDT):脱脂奶粉","v":3626},{"d":"2010-06-15","s":"平均中标价(GDT):脱脂奶粉","v":3470},{"d":"2010-07-13","s":"平均中标价(GDT):脱脂奶粉","v":3261},{"d":"2010-08-07","s":"平均中标价(GDT):脱脂奶粉","v":2793},{"d":"2010-08-24","s":"平均中标价(GDT):脱脂奶粉","v":3209},{"d":"2010-09-22","s":"平均中标价(GDT):脱脂奶粉","v":3230},{"d":"2010-10-16","s":"平均中标价(GDT):脱脂奶粉","v":3105},{"d":"2010-11-20","s":"平均中标价(GDT):脱脂奶粉","v":3084},{"d":"2010-12-25","s":"平均中标价(GDT):脱脂奶粉","v":3522},{"d":"2011-01-30","s":"平均中标价(GDT):脱脂奶粉","v":3939},{"d":"2011-02-16","s":"平均中标价(GDT):脱脂奶粉","v":3991},{"d":"2011-03-14","s":"平均中标价(GDT):脱脂奶粉","v":3782},{"d":"2011-04-18","s":"平均中标价(GDT):脱脂奶粉","v":3782},{"d":"2011-05-12","s":"平均中标价(GDT):脱脂奶粉","v":3939},{"d":"2011-05-29","s":"平均中标价(GDT):脱脂奶粉","v":4376},{"d":"2011-06-16","s":"平均中标价(GDT):脱脂奶粉","v":3678},{"d":"2011-07-21","s":"平均中标价(GDT):脱脂奶粉","v":3470},{"d":"2011-08-25","s":"平均中标价(GDT):脱脂奶粉","v":3418},{"d":"2011-09-30","s":"平均中标价(GDT):脱脂奶粉","v":3209},{"d":"2011-11-04","s":"平均中标价(GDT):脱脂奶粉","v":3366},{"d":"2011-12-09","s":"平均中标价(GDT):脱脂奶粉","v":3314},{"d":"2012-01-13","s":"平均中标价(GDT):脱脂奶粉","v":3209},{"d":"2012-02-17","s":"平均中标价(GDT):脱脂奶粉","v":3105},{"d":"2012-03-22","s":"平均中标价(GDT):脱脂奶粉","v":2897},{"d":"2012-04-26","s":"平均中标价(GDT):脱脂奶粉","v":2584},{"d":"2012-05-20","s":"平均中标价(GDT):脱脂奶粉","v":3001},{"d":"2012-06-18","s":"平均中标价(GDT):脱脂奶粉","v":2688},{"d":"2012-07-15","s":"平均中标价(GDT):脱脂奶粉","v":2845},{"d":"2012-08-09","s":"平均中标价(GDT):脱脂奶粉","v":3053},{"d":"2012-09-14","s":"平均中标价(GDT):脱脂奶粉","v":3314},{"d":"2012-10-18","s":"平均中标价(GDT):脱脂奶粉","v":3418},{"d":"2012-11-23","s":"平均中标价(GDT):脱脂奶粉","v":3418},{"d":"2012-12-27","s":"平均中标价(GDT):脱脂奶粉","v":3574},{"d":"2013-02-01","s":"平均中标价(GDT):脱脂奶粉","v":3574},{"d":"2013-02-25","s":"平均中标价(GDT):脱脂奶粉","v":3991},{"d":"2013-03-16","s":"平均中标价(GDT):脱脂奶粉","v":5085},{"d":"2013-04-10","s":"平均中标价(GDT):脱脂奶粉","v":4355},{"d":"2013-05-15","s":"平均中标价(GDT):脱脂奶粉","v":4199},{"d":"2013-06-19","s":"平均中标价(GDT):脱脂奶粉","v":4512},{"d":"2013-07-24","s":"平均中标价(GDT):脱脂奶粉","v":4460},{"d":"2013-08-28","s":"平均中标价(GDT):脱脂奶粉","v":4355},{"d":"2013-10-02","s":"平均中标价(GDT):脱脂奶粉","v":4564},{"d":"2013-11-06","s":"平均中标价(GDT):脱脂奶粉","v":4616},{"d":"2013-12-11","s":"平均中标价(GDT):脱脂奶粉","v":4824},{"d":"2014-01-15","s":"平均中标价(GDT):脱脂奶粉","v":4772},{"d":"2014-02-19","s":"平均中标价(GDT):脱脂奶粉","v":4793},{"d":"2014-03-24","s":"平均中标价(GDT):脱脂奶粉","v":4251},{"d":"2014-04-28","s":"平均中标价(GDT):脱脂奶粉","v":3939},{"d":"2014-06-03","s":"平均中标价(GDT):脱脂奶粉","v":3835},{"d":"2014-07-08","s":"平均中标价(GDT):脱脂奶粉","v":3835},{"d":"2014-08-12","s":"平均中标价(GDT):脱脂奶粉","v":3366},{"d":"2014-08-29","s":"平均中标价(GDT):脱脂奶粉","v":2740},{"d":"2014-10-04","s":"平均中标价(GDT):脱脂奶粉","v":2688},{"d":"2014-11-08","s":"平均中标价(GDT):脱脂奶粉","v":2532},{"d":"2014-12-12","s":"平均中标价(GDT):脱脂奶粉","v":2428},{"d":"2015-01-17","s":"平均中标价(GDT):脱脂奶粉","v":2376},{"d":"2015-02-14","s":"平均中标价(GDT):脱脂奶粉","v":3001},{"d":"2015-03-18","s":"平均中标价(GDT):脱脂奶粉","v":2532},{"d":"2015-04-12","s":"平均中标价(GDT):脱脂奶粉","v":2167},{"d":"2015-05-17","s":"平均中标价(GDT):脱脂奶粉","v":2011},{"d":"2015-06-21","s":"平均中标价(GDT):脱脂奶粉","v":1959},{"d":"2015-07-26","s":"平均中标价(GDT):脱脂奶粉","v":1438},{"d":"2015-08-30","s":"平均中标价(GDT):脱脂奶粉","v":2063},{"d":"2015-10-04","s":"平均中标价(GDT):脱脂奶粉","v":2272},{"d":"2015-11-09","s":"平均中标价(GDT):脱脂奶粉","v":1907},{"d":"2015-12-14","s":"平均中标价(GDT):脱脂奶粉","v":1855},{"d":"2016-01-18","s":"平均中标价(GDT):脱脂奶粉","v":1803},{"d":"2016-02-22","s":"平均中标价(GDT):脱脂奶粉","v":1771},{"d":"2016-03-27","s":"平均中标价(GDT):脱脂奶粉","v":1751},{"d":"2016-05-01","s":"平均中标价(GDT):脱脂奶粉","v":1698},{"d":"2016-06-05","s":"平均中标价(GDT):脱脂奶粉","v":1959},{"d":"2016-07-10","s":"平均中标价(GDT):脱脂奶粉","v":2011},{"d":"2016-08-14","s":"平均中标价(GDT):脱脂奶粉","v":2167},{"d":"2016-09-19","s":"平均中标价(GDT):脱脂奶粉","v":2272},{"d":"2016-10-23","s":"平均中标价(GDT):脱脂奶粉","v":2532},{"d":"2016-11-28","s":"平均中标价(GDT):脱脂奶粉","v":2636},{"d":"2017-01-02","s":"平均中标价(GDT):脱脂奶粉","v":2636},{"d":"2017-02-06","s":"平均中标价(GDT):脱脂奶粉","v":2532},{"d":"2017-03-11","s":"平均中标价(GDT):脱脂奶粉","v":1959},{"d":"2017-04-15","s":"平均中标价(GDT):脱脂奶粉","v":2011},{"d":"2017-05-20","s":"平均中标价(GDT):脱脂奶粉","v":2219},{"d":"2017-06-24","s":"平均中标价(GDT):脱脂奶粉","v":2011},{"d":"2017-07-28","s":"平均中标价(GDT):脱脂奶粉","v":1959},{"d":"2017-09-02","s":"平均中标价(GDT):脱脂奶粉","v":1907},{"d":"2017-10-07","s":"平均中标价(GDT):脱脂奶粉","v":1803},
     {"d":"2010-03-02","s":"平均中标价(GDT):全脂奶粉","v":3314},{"d":"2010-03-30","s":"平均中标价(GDT):全脂奶粉","v":3960},{"d":"2010-05-11","s":"平均中标价(GDT):全脂奶粉","v":3887},{"d":"2010-06-15","s":"平均中标价(GDT):全脂奶粉","v":3626},{"d":"2010-07-20","s":"平均中标价(GDT):全脂奶粉","v":3209},{"d":"2010-08-07","s":"平均中标价(GDT):全脂奶粉","v":3001},{"d":"2010-08-31","s":"平均中标价(GDT):全脂奶粉","v":3470},{"d":"2010-09-22","s":"平均中标价(GDT):全脂奶粉","v":3626},{"d":"2010-11-03","s":"平均中标价(GDT):全脂奶粉","v":3470},{"d":"2010-12-07","s":"平均中标价(GDT):全脂奶粉","v":3522},{"d":"2011-01-19","s":"平均中标价(GDT):全脂奶粉","v":3782},{"d":"2011-02-16","s":"平均中标价(GDT):全脂奶粉","v":4355},{"d":"2011-02-23","s":"平均中标价(GDT):全脂奶粉","v":4616},{"d":"2011-03-03","s":"平均中标价(GDT):全脂奶粉","v":4043},{"d":"2011-04-08","s":"平均中标价(GDT):全脂奶粉","v":3939},{"d":"2011-05-29","s":"平均中标价(GDT):全脂奶粉","v":3887},{"d":"2011-06-27","s":"平均中标价(GDT):全脂奶粉","v":3626},{"d":"2011-08-08","s":"平均中标价(GDT):全脂奶粉","v":3418},{"d":"2011-09-30","s":"平均中标价(GDT):全脂奶粉","v":3418},{"d":"2011-11-04","s":"平均中标价(GDT):全脂奶粉","v":3626},{"d":"2011-12-09","s":"平均中标价(GDT):全脂奶粉","v":3626},{"d":"2012-01-13","s":"平均中标价(GDT):全脂奶粉","v":3522},{"d":"2012-02-17","s":"平均中标价(GDT):全脂奶粉","v":3314},{"d":"2012-04-02","s":"平均中标价(GDT):全脂奶粉","v":3001},{"d":"2012-05-06","s":"平均中标价(GDT):全脂奶粉","v":2563},{"d":"2012-05-31","s":"平均中标价(GDT):全脂奶粉","v":2793},{"d":"2012-06-25","s":"平均中标价(GDT):全脂奶粉","v":2636},{"d":"2012-08-09","s":"平均中标价(GDT):全脂奶粉","v":3001},{"d":"2012-09-14","s":"平均中标价(GDT):全脂奶粉","v":3418},{"d":"2012-10-18","s":"平均中标价(GDT):全脂奶粉","v":3157},{"d":"2012-12-10","s":"平均中标价(GDT):全脂奶粉","v":3209},{"d":"2013-01-14","s":"平均中标价(GDT):全脂奶粉","v":3366},{"d":"2013-02-11","s":"平均中标价(GDT):全脂奶粉","v":3678},{"d":"2013-03-06","s":"平均中标价(GDT):全脂奶粉","v":4877},{"d":"2013-03-23","s":"平均中标价(GDT):全脂奶粉","v":5241},{"d":"2013-04-10","s":"平均中标价(GDT):全脂奶粉","v":4772},{"d":"2013-05-15","s":"平均中标价(GDT):全脂奶粉","v":4720},{"d":"2013-06-19","s":"平均中标价(GDT):全脂奶粉","v":5033},{"d":"2013-07-24","s":"平均中标价(GDT):全脂奶粉","v":5033},{"d":"2013-08-28","s":"平均中标价(GDT):全脂奶粉","v":5137},{"d":"2013-09-22","s":"平均中标价(GDT):全脂奶粉","v":5189},{"d":"2013-10-19","s":"平均中标价(GDT):全脂奶粉","v":4929},{"d":"2013-11-23","s":"平均中标价(GDT):全脂奶粉","v":5033},{"d":"2013-12-28","s":"平均中标价(GDT):全脂奶粉","v":4877},{"d":"2014-02-02","s":"平均中标价(GDT):全脂奶粉","v":5033},{"d":"2014-03-07","s":"平均中标价(GDT):全脂奶粉","v":4668},{"d":"2014-04-11","s":"平均中标价(GDT):全脂奶粉","v":4043},{"d":"2014-05-16","s":"平均中标价(GDT):全脂奶粉","v":3887},{"d":"2014-06-20","s":"平均中标价(GDT):全脂奶粉","v":3522},{"d":"2014-07-25","s":"平均中标价(GDT):全脂奶粉","v":2793},{"d":"2014-08-29","s":"平均中标价(GDT):全脂奶粉","v":2688},{"d":"2014-10-04","s":"平均中标价(GDT):全脂奶粉","v":2532},{"d":"2014-11-08","s":"平均中标价(GDT):全脂奶粉","v":2532},{"d":"2014-12-12","s":"平均中标价(GDT):全脂奶粉","v":2324},{"d":"2015-01-17","s":"平均中标价(GDT):全脂奶粉","v":2584},{"d":"2015-02-14","s":"平均中标价(GDT):全脂奶粉","v":3261},{"d":"2015-03-08","s":"平均中标价(GDT):全脂奶粉","v":2949},{"d":"2015-04-12","s":"平均中标价(GDT):全脂奶粉","v":2480},{"d":"2015-05-17","s":"平均中标价(GDT):全脂奶粉","v":2376},{"d":"2015-06-21","s":"平均中标价(GDT):全脂奶粉","v":2011},{"d":"2015-07-26","s":"平均中标价(GDT):全脂奶粉","v":1594},{"d":"2015-08-30","s":"平均中标价(GDT):全脂奶粉","v":2480},{"d":"2015-09-28","s":"平均中标价(GDT):全脂奶粉","v":2845},{"d":"2015-10-29","s":"平均中标价(GDT):全脂奶粉","v":2272},{"d":"2015-11-26","s":"平均中标价(GDT):全脂奶粉","v":2324},{"d":"2015-12-31","s":"平均中标价(GDT):全脂奶粉","v":2219},{"d":"2016-02-04","s":"平均中标价(GDT):全脂奶粉","v":1907},{"d":"2016-03-10","s":"平均中标价(GDT):全脂奶粉","v":1959},{"d":"2016-04-14","s":"平均中标价(GDT):全脂奶粉","v":2063},{"d":"2016-05-18","s":"平均中标价(GDT):全脂奶粉","v":2219},{"d":"2016-06-23","s":"平均中标价(GDT):全脂奶粉","v":2115},{"d":"2016-07-27","s":"平均中标价(GDT):全脂奶粉","v":2480},{"d":"2016-09-01","s":"平均中标价(GDT):全脂奶粉","v":2793},{"d":"2016-10-06","s":"平均中标价(GDT):全脂奶粉","v":2740},{"d":"2016-11-03","s":"平均中标价(GDT):全脂奶粉","v":3314},{"d":"2016-12-08","s":"平均中标价(GDT):全脂奶粉","v":3605},{"d":"2017-01-12","s":"平均中标价(GDT):全脂奶粉","v":3314},{"d":"2017-02-17","s":"平均中标价(GDT):全脂奶粉","v":3314},{"d":"2017-03-21","s":"平均中标价(GDT):全脂奶粉","v":2845},{"d":"2017-04-26","s":"平均中标价(GDT):全脂奶粉","v":3001},{"d":"2017-05-31","s":"平均中标价(GDT):全脂奶粉","v":3314},{"d":"2017-07-04","s":"平均中标价(GDT):全脂奶粉","v":3105},{"d":"2017-08-08","s":"平均中标价(GDT):全脂奶粉","v":3157},{"d":"2017-09-13","s":"平均中标价(GDT):全脂奶粉","v":3126},{"d":"2017-10-07","s":"平均中标价(GDT):全脂奶粉","v":3001}
    ]},
    "mark": {"type": "line", "strokeWidth": 1.5},
    "encoding": {
     "x": {"field": "d", "type": "temporal",
       "axis": {"title": null, "orient": "bottom", "offset": -31, "values": [{"year":2010,"month":3,"date":2},{"year":2010,"month":6,"date":2},{"year":2010,"month":9,"date":2},{"year":2010,"month":12,"date":2},{"year":2011,"month":3,"date":2},{"year":2011,"month":6,"date":2},{"year":2011,"month":9,"date":2},{"year":2011,"month":12,"date":2},{"year":2012,"month":3,"date":2},{"year":2012,"month":6,"date":2},{"year":2012,"month":9,"date":2},{"year":2012,"month":12,"date":2},{"year":2013,"month":3,"date":2},{"year":2013,"month":6,"date":2},{"year":2013,"month":9,"date":2},{"year":2013,"month":12,"date":2},{"year":2014,"month":3,"date":2},{"year":2014,"month":6,"date":2},{"year":2014,"month":9,"date":2},{"year":2014,"month":12,"date":2},{"year":2015,"month":3,"date":2},{"year":2015,"month":6,"date":2},{"year":2015,"month":9,"date":2},{"year":2015,"month":12,"date":2},{"year":2016,"month":3,"date":2},{"year":2016,"month":6,"date":2},{"year":2016,"month":9,"date":2},{"year":2016,"month":12,"date":2},{"year":2017,"month":3,"date":2},{"year":2017,"month":6,"date":2},{"year":2017,"month":9,"date":2}],
         "format": "%Y-%m-%d", "labelAngle": -90, "labelFontSize": 5.2, "labelFontWeight": "bold", "labelFont": "Liberation Sans", "labelColor": "#404040", "grid": false, "tickSize": 2, "tickColor": "#aaa", "domainColor": "#aaa", "labelPadding": 2, "labelOverlap": false}},
     "y": {"field": "v", "type": "quantitative",
       "axis": {"title": null, "orient": "left", "offset": -38, "values": [0,1000,2000,3000,4000,5000,6000], "labelExpr": "format(datum.value, 'd')", "labelFontSize": 8, "labelFontWeight": "bold", "labelFont": "Liberation Sans", "labelColor": "#404040", "grid": false, "tickSize": 0, "domainColor": "#aaa", "labelPadding": 6, "labelOverlap": false}},
     "color": {"field": "s", "type": "nominal", "scale": {"domain": ["平均中标价(GDT):脱脂奶粉","平均中标价(GDT):全脂奶粉"], "range": ["#4a7ebb","#d0363a"]},
       "legend": {"orient": "none", "legendX": 70, "legendY": 10, "columns": 2, "title": null, "symbolType": "stroke", "symbolSize": 169, "symbolStrokeWidth": 2, "labelFontSize": 7.5, "labelColor": "#262626", "labelExpr": "[slice(datum.label, 0, 11), slice(datum.label, 11) + '···']", "columnPadding": 43, "labelOffset": 3, "labelLimit": 0}}
    }}
  ]
},
{"width": 367, "height": 28, "data": {"values": [{"t": "数据来源：东北证券，Wind"}]}, "layer": [
  {"mark": {"type": "text", "font": "Liberation Serif, Noto Sans CJK SC", "fontSize": 12, "align": "left", "baseline": "middle", "dx": 5, "dy": 1, "fill": "#000"}, "encoding": {"x": {"datum": 0, "type": "quantitative", "scale": {"domain": [0, 1]}, "axis": null}, "text": {"field": "t"}}},
  {"mark": {"type": "rule", "stroke": "#000", "strokeWidth": 1, "xOffset": 2, "x2Offset": -47, "yOffset": -11}, "encoding": {"x": {"datum": 0, "type": "quantitative", "axis": null}, "x2": {"datum": 1}, "y": {"datum": 0.5, "type": "quantitative", "scale": {"domain": [0, 1]}, "axis": null}}}
]},
{"width": 315, "height": 28, "data": {"values": [{"t": "数据来源：东北证券，Wind"}]}, "layer": [
  {"mark": {"type": "text", "font": "Liberation Serif, Noto Sans CJK SC", "fontSize": 12, "align": "left", "baseline": "middle", "dx": 9, "dy": 1, "fill": "#000"}, "encoding": {"x": {"datum": 0, "type": "quantitative", "scale": {"domain": [0, 1]}, "axis": null}, "text": {"field": "t"}}},
  {"mark": {"type": "rule", "stroke": "#000", "strokeWidth": 1, "xOffset": 2, "x2Offset": 3, "yOffset": -11}, "encoding": {"x": {"datum": 0, "type": "quantitative", "axis": null}, "x2": {"datum": 1}, "y": {"datum": 0.5, "type": "quantitative", "scale": {"domain": [0, 1]}, "axis": null}}}
]},
{
"width": 367, "height": 125,
"layer": [
 {"data": {"values": [{"h": "3.3.  猪价"}]}, "mark": {"type": "text", "font": "Liberation Serif, Noto Sans CJK SC", "fontWeight": "bold", "fontSize": 15.5, "align": "left", "baseline": "middle", "dx": 5, "dy": -51.5, "fill": "#000"}, "encoding": {"x": {"datum": 0, "type": "quantitative", "scale": {"domain": [0, 1]}, "axis": null}, "text": {"field": "h"}}},
 {"data": {"values": [
   {"i": 1, "t": "截止 2019 年 06 月 28 日，生猪价格同比上涨 38.92%，环比上升 5.53%，为 17.74"}
  ]},
  "mark": {"type": "text", "font": "Liberation Serif, Noto Sans CJK SC", "fontSize": 14.5, "align": "left", "baseline": "middle", "dx": 32, "dy": 13, "fill": "#000"},
  "encoding": {"x": {"datum": 0, "type": "quantitative", "axis": null}, "y": {"field": "i", "type": "ordinal", "axis": null, "scale": {"type": "point", "padding": 1, "domain": [1, 2, 3, 4]}}, "text": {"field": "t"}}},
 {"data": {"values": [
   {"i": 2, "t": "元/千克；截止 2019 年 06 月 28 日，仔猪价格同比上涨 111.69%，环比上涨 5.57%，"},
   {"i": 3, "t": "为 52.88 元/千克；截止 2019 年 06 月 28 日，猪肉价格同比上涨 42.37%，环比上涨"},
   {"i": 4, "t": "6.87%，为 25.37 元/千克。"}
  ]},
  "mark": {"type": "text", "font": "Liberation Serif, Noto Sans CJK SC", "fontSize": 14.5, "align": "left", "baseline": "middle", "dx": 5, "dy": 13, "fill": "#000"},
  "encoding": {"x": {"datum": 0, "type": "quantitative", "axis": null}, "y": {"field": "i", "type": "ordinal", "axis": null}, "text": {"field": "t"}}}
]
},
{"width": 1, "height": 1, "data": {"values": []}, "mark": "point"},
{
"width": 367, "height": 180,
"data": {"values": [{"note": "请务必阅读正文之后的免责声明部分"}]},
"layer": [
 {"mark": {"type": "rule", "stroke": "#2e6db4", "strokeWidth": 2, "xOffset": 3, "yOffset": 70}, "encoding": {"x": {"datum": 0, "type": "quantitative", "scale": {"domain": [0, 1]}, "axis": null}, "x2": {"datum": 1}, "y": {"datum": 0.5, "type": "quantitative", "scale": {"domain": [0, 1]}, "axis": null}}},
 {"mark": {"type": "text", "fontSize": 9, "fill": "#cfcfcf", "align": "left", "baseline": "middle", "dx": 42, "dy": 77}, "encoding": {"x": {"datum": 0, "type": "quantitative", "axis": null}, "text": {"field": "note"}}}
]
},
{
"width": 303, "height": 180,
"data": {"values": [{"page": "4 / 11"}]},
"layer": [
 {"mark": {"type": "rule", "stroke": "#2e6db4", "strokeWidth": 2, "yOffset": 70}, "encoding": {"x": {"datum": 0, "type": "quantitative", "scale": {"domain": [0, 1]}, "axis": null}, "x2": {"datum": 1}, "y": {"datum": 0.5, "type": "quantitative", "scale": {"domain": [0, 1]}, "axis": null}}},
 {"mark": {"type": "text", "font": "Liberation Serif", "fontWeight": "bold", "fontSize": 12.5, "fill": "#000", "align": "right", "baseline": "middle", "dx": -34, "dy": 84}, "encoding": {"x": {"datum": 1, "type": "quantitative", "axis": null}, "text": {"field": "page"}}}
]
}
]
}
